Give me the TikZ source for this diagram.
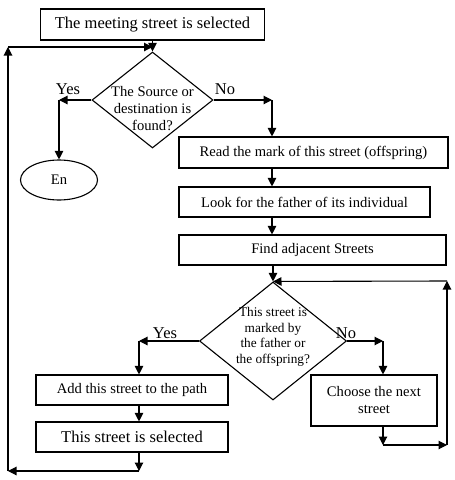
\documentclass[tikz,border=0pt]{standalone}
\usepackage{fontspec}
\setmainfont{Liberation Serif}
\usetikzlibrary{shapes.geometric,arrows.meta}
\begin{document}
\begin{tikzpicture}[x=1pt,y=-1pt,line width=1.1pt,
  box/.style={draw,rectangle,inner sep=0pt,align=center,font=\fontsize{14.6}{17}\selectfont},
  decision/.style={draw,diamond,inner sep=0pt},
  dtext/.style={align=center,inner sep=0pt},
  lbl/.style={font=\fontsize{16.5}{18}\selectfont},
  arr/.style={-{Triangle[length=8.5pt,width=8.5pt]}}]
\useasboundingbox (0,0) rectangle (455,480);
% top part
\node[box,minimum width=224,minimum height=31,font=\fontsize{16.5}{18}\selectfont] (meet) at (152.5,24.5) {The meeting street is selected};
\node[decision,minimum width=121,minimum height=96] (found) at (152.5,100) {};
\node[dtext,font=\fontsize{14.6}{17}\selectfont] (foundtxt) at (152.5,109) {The Source or\\destination is\\found?};
\node[draw,ellipse,minimum width=77,minimum height=40,inner sep=0pt,font=\fontsize{14.6}{17}\selectfont] (end) at (59,180) {En};
\node[box,minimum width=269,minimum height=31] (read) at (313.5,152.5) {Read the mark of this street (offspring)};
\node[box,minimum width=251,minimum height=30] (look) at (304.5,202) {Look for the father of its individual};
\node[box,minimum width=267,minimum height=30] (adj) at (312.5,250) {Find adjacent Streets};
% second decision
\node[decision,minimum width=147,minimum height=118] (marked) at (273,341) {};
\node[dtext,font=\fontsize{13.3}{15.5}\selectfont] (markedtxt) at (273,337) {This street is\\marked by\\the father or\\the offspring?};
\node[box,minimum width=192,minimum height=30] (add) at (132,390) {Add this street to the path};
\node[box,minimum width=192,minimum height=30,font=\fontsize{16.5}{18}\selectfont] (sel) at (132,437) {This street is selected};
\node[box,minimum width=126,minimum height=51] (next) at (374,400.5) {Choose the next\\street};
% labels
\node[lbl] (yeslbl1) at (68,89) {Yes};
\node[lbl] (nolbl1) at (225,89) {No};
\node[lbl] (yeslbl2) at (165,333) {Yes};
\node[lbl] (nolbl2) at (346,333) {No};
% corners
\coordinate (yes1) at (59,100);
\coordinate (no1) at (272,100);
\coordinate (yes2) at (139,341);
\coordinate (no2) at (383,341);
\coordinate (lb) at (8,471);
\coordinate (lt) at (8,47);
\coordinate (rb) at (447,445);
\coordinate (rt) at (447,281);
% connectors
\draw[arr] (meet.south) -- (found.north);
\draw[arr] (found.west) -- (yes1);
\draw[arr] (yes1) -- (end.north);
\draw[arr] (found.east) -- (no1);
\draw[arr] (no1) -- (no1 |- read.north);
\draw[arr] (read.south -| no1) -- (look.north -| no1);
\draw[arr] (look.south -| no1) -- (adj.north -| no1);
\draw[arr] (adj.south -| marked.north) -- (marked.north);
\draw[arr] (marked.west) -- (yes2);
\draw[arr] (yes2) -- (yes2 |- add.north);
\draw[arr] (add.south -| yes2) -- (sel.north -| yes2);
\draw[arr] (sel.south -| yes2) -- (yes2 |- lb);
\draw[arr] (yes2 |- lb) -- (lb);
\draw[arr] (lb) -- (lt);
\draw[arr] (lt) -- (lt -| found.north);
\draw[arr] (marked.east) -- (no2);
\draw[arr] (no2) -- (no2 |- next.north);
\draw[arr] (next.south -| no2) -- (no2 |- rb);
\draw[arr] (no2 |- rb) -- (rb);
\draw[arr] (rb) -- (rt);
\draw[arr] (rt) -- (marked.north);
\end{tikzpicture}
\end{document}
